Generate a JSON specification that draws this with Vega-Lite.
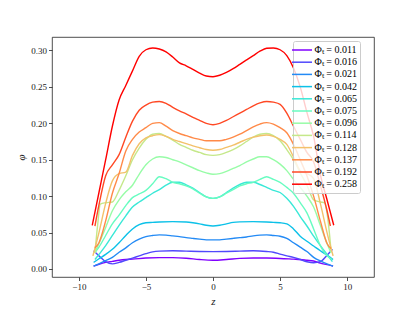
{
"$schema": "https://vega.github.io/schema/vega-lite/v6.json",
"width": 322, "height": 240,
"autosize": {"type": "none"},
"padding": {"left": 52, "top": 37, "right": 41, "bottom": 34},
"background": "white",
"datasets": {"d": [
{"T":"0.011","z":-8.9,"p":0.004},{"T":"0.011","z":-8.5,"p":0.0065},{"T":"0.011","z":-8,"p":0.009},{"T":"0.011","z":-7.5,"p":0.0105},{"T":"0.011","z":-7,"p":0.012},{"T":"0.011","z":-6.5,"p":0.013},{"T":"0.011","z":-6,"p":0.0135},{"T":"0.011","z":-5,"p":0.015},{"T":"0.011","z":-4,"p":0.0156},{"T":"0.011","z":-3,"p":0.0156},{"T":"0.011","z":-2,"p":0.0148},{"T":"0.011","z":-1,"p":0.013},{"T":"0.011","z":0,"p":0.012},{"T":"0.011","z":1,"p":0.013},{"T":"0.011","z":2,"p":0.0145},{"T":"0.011","z":3,"p":0.015},{"T":"0.011","z":4,"p":0.015},{"T":"0.011","z":5,"p":0.0145},{"T":"0.011","z":6,"p":0.0135},{"T":"0.011","z":6.5,"p":0.013},{"T":"0.011","z":7,"p":0.012},{"T":"0.011","z":7.5,"p":0.011},{"T":"0.011","z":8,"p":0.008},{"T":"0.011","z":8.5,"p":0.006},{"T":"0.011","z":8.95,"p":0.004},
{"T":"0.016","z":-8.9,"p":0.025},{"T":"0.016","z":-8.5,"p":0.018},{"T":"0.016","z":-8,"p":0.010},{"T":"0.016","z":-7.5,"p":0.007},{"T":"0.016","z":-7,"p":0.009},{"T":"0.016","z":-6.5,"p":0.012},{"T":"0.016","z":-6,"p":0.015},{"T":"0.016","z":-5.5,"p":0.018},{"T":"0.016","z":-5,"p":0.021},{"T":"0.016","z":-4.5,"p":0.0235},{"T":"0.016","z":-4,"p":0.0245},{"T":"0.016","z":-3,"p":0.025},{"T":"0.016","z":-2,"p":0.0245},{"T":"0.016","z":-1,"p":0.024},{"T":"0.016","z":0,"p":0.0238},{"T":"0.016","z":1,"p":0.024},{"T":"0.016","z":2,"p":0.0245},{"T":"0.016","z":3,"p":0.025},{"T":"0.016","z":4,"p":0.024},{"T":"0.016","z":4.5,"p":0.023},{"T":"0.016","z":5,"p":0.0205},{"T":"0.016","z":5.5,"p":0.018},{"T":"0.016","z":6,"p":0.016},{"T":"0.016","z":6.5,"p":0.013},{"T":"0.016","z":7,"p":0.010},{"T":"0.016","z":7.5,"p":0.0085},{"T":"0.016","z":8,"p":0.010},{"T":"0.016","z":8.5,"p":0.019},{"T":"0.016","z":8.9,"p":0.027},
{"T":"0.021","z":-8.9,"p":0.004},{"T":"0.021","z":-8.5,"p":0.007},{"T":"0.021","z":-8,"p":0.0115},{"T":"0.021","z":-7.5,"p":0.016},{"T":"0.021","z":-7,"p":0.023},{"T":"0.021","z":-6.5,"p":0.029},{"T":"0.021","z":-6,"p":0.036},{"T":"0.021","z":-5.5,"p":0.041},{"T":"0.021","z":-5,"p":0.0445},{"T":"0.021","z":-4.5,"p":0.046},{"T":"0.021","z":-4,"p":0.0468},{"T":"0.021","z":-3.5,"p":0.0465},{"T":"0.021","z":-3,"p":0.0455},{"T":"0.021","z":-2.5,"p":0.0445},{"T":"0.021","z":-2,"p":0.043},{"T":"0.021","z":-1.5,"p":0.042},{"T":"0.021","z":-1,"p":0.041},{"T":"0.021","z":-0.5,"p":0.040},{"T":"0.021","z":0,"p":0.040},{"T":"0.021","z":0.5,"p":0.040},{"T":"0.021","z":1,"p":0.041},{"T":"0.021","z":1.5,"p":0.042},{"T":"0.021","z":2,"p":0.043},{"T":"0.021","z":2.5,"p":0.044},{"T":"0.021","z":3,"p":0.0455},{"T":"0.021","z":3.5,"p":0.0465},{"T":"0.021","z":4,"p":0.0468},{"T":"0.021","z":4.5,"p":0.046},{"T":"0.021","z":5,"p":0.045},{"T":"0.021","z":5.5,"p":0.042},{"T":"0.021","z":6,"p":0.036},{"T":"0.021","z":6.5,"p":0.030},{"T":"0.021","z":7,"p":0.024},{"T":"0.021","z":7.5,"p":0.016},{"T":"0.021","z":8,"p":0.011},{"T":"0.021","z":8.5,"p":0.007},{"T":"0.021","z":8.95,"p":0.004},
{"T":"0.042","z":-8.9,"p":0.009},{"T":"0.042","z":-8.5,"p":0.014},{"T":"0.042","z":-8,"p":0.020},{"T":"0.042","z":-7.5,"p":0.027},{"T":"0.042","z":-7,"p":0.036},{"T":"0.042","z":-6.5,"p":0.046},{"T":"0.042","z":-6,"p":0.055},{"T":"0.042","z":-5.5,"p":0.061},{"T":"0.042","z":-5,"p":0.0635},{"T":"0.042","z":-4.5,"p":0.064},{"T":"0.042","z":-4,"p":0.0645},{"T":"0.042","z":-3,"p":0.065},{"T":"0.042","z":-2,"p":0.0645},{"T":"0.042","z":-1.5,"p":0.0635},{"T":"0.042","z":-1,"p":0.062},{"T":"0.042","z":-0.5,"p":0.060},{"T":"0.042","z":0,"p":0.059},{"T":"0.042","z":0.5,"p":0.060},{"T":"0.042","z":1,"p":0.062},{"T":"0.042","z":1.5,"p":0.064},{"T":"0.042","z":2,"p":0.0647},{"T":"0.042","z":3,"p":0.065},{"T":"0.042","z":4,"p":0.0645},{"T":"0.042","z":4.5,"p":0.064},{"T":"0.042","z":5,"p":0.0635},{"T":"0.042","z":5.5,"p":0.062},{"T":"0.042","z":6,"p":0.055},{"T":"0.042","z":6.5,"p":0.045},{"T":"0.042","z":7,"p":0.038},{"T":"0.042","z":7.5,"p":0.0315},{"T":"0.042","z":8,"p":0.025},{"T":"0.042","z":8.5,"p":0.019},{"T":"0.042","z":8.95,"p":0.013},
{"T":"0.065","z":-8.8,"p":0.013},{"T":"0.065","z":-8.5,"p":0.020},{"T":"0.065","z":-8,"p":0.032},{"T":"0.065","z":-7.5,"p":0.046},{"T":"0.065","z":-7,"p":0.060},{"T":"0.065","z":-6.5,"p":0.073},{"T":"0.065","z":-6,"p":0.085},{"T":"0.065","z":-5.5,"p":0.092},{"T":"0.065","z":-5,"p":0.098},{"T":"0.065","z":-4.5,"p":0.104},{"T":"0.065","z":-4,"p":0.109},{"T":"0.065","z":-3.5,"p":0.115},{"T":"0.065","z":-3,"p":0.119},{"T":"0.065","z":-2.5,"p":0.119},{"T":"0.065","z":-2,"p":0.1155},{"T":"0.065","z":-1.5,"p":0.111},{"T":"0.065","z":-1,"p":0.105},{"T":"0.065","z":-0.5,"p":0.099},{"T":"0.065","z":0,"p":0.097},{"T":"0.065","z":0.5,"p":0.099},{"T":"0.065","z":1,"p":0.105},{"T":"0.065","z":1.5,"p":0.111},{"T":"0.065","z":2,"p":0.116},{"T":"0.065","z":2.5,"p":0.119},{"T":"0.065","z":3,"p":0.119},{"T":"0.065","z":3.5,"p":0.116},{"T":"0.065","z":4,"p":0.112},{"T":"0.065","z":4.5,"p":0.108},{"T":"0.065","z":5,"p":0.105},{"T":"0.065","z":5.5,"p":0.097},{"T":"0.065","z":6,"p":0.086},{"T":"0.065","z":6.5,"p":0.072},{"T":"0.065","z":7,"p":0.059},{"T":"0.065","z":7.5,"p":0.045},{"T":"0.065","z":8,"p":0.032},{"T":"0.065","z":8.5,"p":0.020},{"T":"0.065","z":8.9,"p":0.010},
{"T":"0.075","z":-8.8,"p":0.0225},{"T":"0.075","z":-8.5,"p":0.030},{"T":"0.075","z":-8,"p":0.046},{"T":"0.075","z":-7.5,"p":0.062},{"T":"0.075","z":-7,"p":0.074},{"T":"0.075","z":-6.5,"p":0.087},{"T":"0.075","z":-6,"p":0.098},{"T":"0.075","z":-5.5,"p":0.103},{"T":"0.075","z":-5,"p":0.108},{"T":"0.075","z":-4.5,"p":0.117},{"T":"0.075","z":-4,"p":0.1266},{"T":"0.075","z":-3.5,"p":0.124},{"T":"0.075","z":-3,"p":0.119},{"T":"0.075","z":-2.5,"p":0.117},{"T":"0.075","z":-2,"p":0.114},{"T":"0.075","z":-1.5,"p":0.110},{"T":"0.075","z":-1,"p":0.104},{"T":"0.075","z":-0.5,"p":0.099},{"T":"0.075","z":0,"p":0.097},{"T":"0.075","z":0.5,"p":0.099},{"T":"0.075","z":1,"p":0.104},{"T":"0.075","z":1.5,"p":0.109},{"T":"0.075","z":2,"p":0.114},{"T":"0.075","z":2.5,"p":0.117},{"T":"0.075","z":3,"p":0.119},{"T":"0.075","z":3.5,"p":0.123},{"T":"0.075","z":4,"p":0.1266},{"T":"0.075","z":4.5,"p":0.123},{"T":"0.075","z":5,"p":0.119},{"T":"0.075","z":5.5,"p":0.112},{"T":"0.075","z":6,"p":0.104},{"T":"0.075","z":6.5,"p":0.091},{"T":"0.075","z":7,"p":0.077},{"T":"0.075","z":7.5,"p":0.055},{"T":"0.075","z":8,"p":0.032},{"T":"0.075","z":8.5,"p":0.018},{"T":"0.075","z":8.85,"p":0.0133},
{"T":"0.096","z":-8.8,"p":0.0225},{"T":"0.096","z":-8.5,"p":0.035},{"T":"0.096","z":-8,"p":0.057},{"T":"0.096","z":-7.5,"p":0.080},{"T":"0.096","z":-7,"p":0.095},{"T":"0.096","z":-6.5,"p":0.106},{"T":"0.096","z":-6,"p":0.115},{"T":"0.096","z":-5.5,"p":0.130},{"T":"0.096","z":-5,"p":0.143},{"T":"0.096","z":-4.5,"p":0.151},{"T":"0.096","z":-4,"p":0.154},{"T":"0.096","z":-3.5,"p":0.153},{"T":"0.096","z":-3,"p":0.150},{"T":"0.096","z":-2.5,"p":0.147},{"T":"0.096","z":-2,"p":0.143},{"T":"0.096","z":-1.5,"p":0.139},{"T":"0.096","z":-1,"p":0.135},{"T":"0.096","z":-0.5,"p":0.132},{"T":"0.096","z":0,"p":0.130},{"T":"0.096","z":0.5,"p":0.131},{"T":"0.096","z":1,"p":0.134},{"T":"0.096","z":1.5,"p":0.138},{"T":"0.096","z":2,"p":0.142},{"T":"0.096","z":2.5,"p":0.147},{"T":"0.096","z":3,"p":0.151},{"T":"0.096","z":3.5,"p":0.154},{"T":"0.096","z":4,"p":0.154},{"T":"0.096","z":4.5,"p":0.150},{"T":"0.096","z":5,"p":0.144},{"T":"0.096","z":5.5,"p":0.135},{"T":"0.096","z":6,"p":0.123},{"T":"0.096","z":6.5,"p":0.112},{"T":"0.096","z":7,"p":0.100},{"T":"0.096","z":7.5,"p":0.085},{"T":"0.096","z":8,"p":0.060},{"T":"0.096","z":8.5,"p":0.035},{"T":"0.096","z":8.8,"p":0.022},
{"T":"0.114","z":-8.8,"p":0.022},{"T":"0.114","z":-8.6,"p":0.060},{"T":"0.114","z":-8.4,"p":0.089},{"T":"0.114","z":-8,"p":0.091},{"T":"0.114","z":-7.5,"p":0.092},{"T":"0.114","z":-7,"p":0.108},{"T":"0.114","z":-6.5,"p":0.128},{"T":"0.114","z":-6,"p":0.150},{"T":"0.114","z":-5.5,"p":0.166},{"T":"0.114","z":-5,"p":0.178},{"T":"0.114","z":-4.5,"p":0.185},{"T":"0.114","z":-4,"p":0.186},{"T":"0.114","z":-3.5,"p":0.182},{"T":"0.114","z":-3,"p":0.177},{"T":"0.114","z":-2.5,"p":0.171},{"T":"0.114","z":-2,"p":0.167},{"T":"0.114","z":-1.5,"p":0.163},{"T":"0.114","z":-1,"p":0.160},{"T":"0.114","z":-0.5,"p":0.157},{"T":"0.114","z":0,"p":0.156},{"T":"0.114","z":0.5,"p":0.157},{"T":"0.114","z":1,"p":0.160},{"T":"0.114","z":1.5,"p":0.164},{"T":"0.114","z":2,"p":0.169},{"T":"0.114","z":2.5,"p":0.175},{"T":"0.114","z":3,"p":0.181},{"T":"0.114","z":3.5,"p":0.185},{"T":"0.114","z":4,"p":0.186},{"T":"0.114","z":4.5,"p":0.183},{"T":"0.114","z":5,"p":0.176},{"T":"0.114","z":5.5,"p":0.164},{"T":"0.114","z":6,"p":0.150},{"T":"0.114","z":6.5,"p":0.132},{"T":"0.114","z":7,"p":0.115},{"T":"0.114","z":7.5,"p":0.095},{"T":"0.114","z":8,"p":0.092},{"T":"0.114","z":8.3,"p":0.091},{"T":"0.114","z":8.55,"p":0.070},{"T":"0.114","z":8.8,"p":0.025},
{"T":"0.128","z":-8.95,"p":0.018},{"T":"0.128","z":-8.5,"p":0.050},{"T":"0.128","z":-8,"p":0.090},{"T":"0.128","z":-7.5,"p":0.121},{"T":"0.128","z":-7,"p":0.131},{"T":"0.128","z":-6.5,"p":0.133},{"T":"0.128","z":-6,"p":0.156},{"T":"0.128","z":-5.5,"p":0.172},{"T":"0.128","z":-5,"p":0.180},{"T":"0.128","z":-4.5,"p":0.183},{"T":"0.128","z":-4,"p":0.1845},{"T":"0.128","z":-3.5,"p":0.182},{"T":"0.128","z":-3,"p":0.178},{"T":"0.128","z":-2.5,"p":0.175},{"T":"0.128","z":-2,"p":0.172},{"T":"0.128","z":-1.5,"p":0.169},{"T":"0.128","z":-1,"p":0.1665},{"T":"0.128","z":-0.5,"p":0.164},{"T":"0.128","z":0,"p":0.163},{"T":"0.128","z":0.5,"p":0.164},{"T":"0.128","z":1,"p":0.167},{"T":"0.128","z":1.5,"p":0.170},{"T":"0.128","z":2,"p":0.174},{"T":"0.128","z":2.5,"p":0.178},{"T":"0.128","z":3,"p":0.181},{"T":"0.128","z":3.5,"p":0.183},{"T":"0.128","z":4,"p":0.184},{"T":"0.128","z":4.5,"p":0.182},{"T":"0.128","z":5,"p":0.178},{"T":"0.128","z":5.5,"p":0.171},{"T":"0.128","z":6,"p":0.154},{"T":"0.128","z":6.5,"p":0.135},{"T":"0.128","z":7,"p":0.131},{"T":"0.128","z":7.5,"p":0.124},{"T":"0.128","z":8,"p":0.090},{"T":"0.128","z":8.5,"p":0.050},{"T":"0.128","z":8.95,"p":0.018},
{"T":"0.137","z":-8.8,"p":0.029},{"T":"0.137","z":-8.5,"p":0.036},{"T":"0.137","z":-8,"p":0.066},{"T":"0.137","z":-7.5,"p":0.104},{"T":"0.137","z":-7,"p":0.131},{"T":"0.137","z":-6.5,"p":0.162},{"T":"0.137","z":-6,"p":0.178},{"T":"0.137","z":-5.5,"p":0.188},{"T":"0.137","z":-5,"p":0.194},{"T":"0.137","z":-4.5,"p":0.200},{"T":"0.137","z":-4,"p":0.201},{"T":"0.137","z":-3.5,"p":0.196},{"T":"0.137","z":-3,"p":0.190},{"T":"0.137","z":-2.5,"p":0.186},{"T":"0.137","z":-2,"p":0.183},{"T":"0.137","z":-1.5,"p":0.180},{"T":"0.137","z":-1,"p":0.178},{"T":"0.137","z":-0.5,"p":0.176},{"T":"0.137","z":0,"p":0.176},{"T":"0.137","z":0.5,"p":0.176},{"T":"0.137","z":1,"p":0.178},{"T":"0.137","z":1.5,"p":0.181},{"T":"0.137","z":2,"p":0.185},{"T":"0.137","z":2.5,"p":0.190},{"T":"0.137","z":3,"p":0.195},{"T":"0.137","z":3.5,"p":0.199},{"T":"0.137","z":4,"p":0.201},{"T":"0.137","z":4.5,"p":0.199},{"T":"0.137","z":5,"p":0.194},{"T":"0.137","z":5.5,"p":0.187},{"T":"0.137","z":6,"p":0.171},{"T":"0.137","z":6.5,"p":0.150},{"T":"0.137","z":7,"p":0.128},{"T":"0.137","z":7.5,"p":0.100},{"T":"0.137","z":8,"p":0.066},{"T":"0.137","z":8.5,"p":0.035},{"T":"0.137","z":8.8,"p":0.028},
{"T":"0.192","z":-8.8,"p":0.059},{"T":"0.192","z":-8.5,"p":0.088},{"T":"0.192","z":-8,"p":0.128},{"T":"0.192","z":-7.5,"p":0.143},{"T":"0.192","z":-7,"p":0.157},{"T":"0.192","z":-6.5,"p":0.181},{"T":"0.192","z":-6,"p":0.203},{"T":"0.192","z":-5.5,"p":0.218},{"T":"0.192","z":-5,"p":0.225},{"T":"0.192","z":-4.5,"p":0.229},{"T":"0.192","z":-4,"p":0.230},{"T":"0.192","z":-3.5,"p":0.2275},{"T":"0.192","z":-3,"p":0.222},{"T":"0.192","z":-2.5,"p":0.217},{"T":"0.192","z":-2,"p":0.213},{"T":"0.192","z":-1.5,"p":0.208},{"T":"0.192","z":-1,"p":0.204},{"T":"0.192","z":-0.5,"p":0.200},{"T":"0.192","z":0,"p":0.198},{"T":"0.192","z":0.5,"p":0.200},{"T":"0.192","z":1,"p":0.204},{"T":"0.192","z":1.5,"p":0.209},{"T":"0.192","z":2,"p":0.214},{"T":"0.192","z":2.5,"p":0.219},{"T":"0.192","z":3,"p":0.224},{"T":"0.192","z":3.5,"p":0.228},{"T":"0.192","z":4,"p":0.230},{"T":"0.192","z":4.5,"p":0.229},{"T":"0.192","z":5,"p":0.226},{"T":"0.192","z":5.5,"p":0.214},{"T":"0.192","z":6,"p":0.196},{"T":"0.192","z":6.5,"p":0.178},{"T":"0.192","z":7,"p":0.160},{"T":"0.192","z":7.5,"p":0.147},{"T":"0.192","z":8,"p":0.115},{"T":"0.192","z":8.5,"p":0.080},{"T":"0.192","z":8.75,"p":0.059},
{"T":"0.258","z":-9,"p":0.060},{"T":"0.258","z":-8.5,"p":0.105},{"T":"0.258","z":-8,"p":0.150},{"T":"0.258","z":-7.5,"p":0.196},{"T":"0.258","z":-7,"p":0.232},{"T":"0.258","z":-6.5,"p":0.252},{"T":"0.258","z":-6,"p":0.272},{"T":"0.258","z":-5.5,"p":0.292},{"T":"0.258","z":-5,"p":0.301},{"T":"0.258","z":-4.5,"p":0.3035},{"T":"0.258","z":-4,"p":0.302},{"T":"0.258","z":-3.5,"p":0.298},{"T":"0.258","z":-3,"p":0.291},{"T":"0.258","z":-2.5,"p":0.283},{"T":"0.258","z":-2,"p":0.279},{"T":"0.258","z":-1.5,"p":0.274},{"T":"0.258","z":-1,"p":0.269},{"T":"0.258","z":-0.5,"p":0.265},{"T":"0.258","z":0,"p":0.264},{"T":"0.258","z":0.5,"p":0.266},{"T":"0.258","z":1,"p":0.270},{"T":"0.258","z":1.5,"p":0.275},{"T":"0.258","z":2,"p":0.281},{"T":"0.258","z":2.5,"p":0.287},{"T":"0.258","z":3,"p":0.293},{"T":"0.258","z":3.5,"p":0.299},{"T":"0.258","z":4,"p":0.303},{"T":"0.258","z":4.5,"p":0.3035},{"T":"0.258","z":5,"p":0.301},{"T":"0.258","z":5.5,"p":0.293},{"T":"0.258","z":6,"p":0.276},{"T":"0.258","z":6.5,"p":0.250},{"T":"0.258","z":7,"p":0.215},{"T":"0.258","z":7.5,"p":0.182},{"T":"0.258","z":8,"p":0.130},{"T":"0.258","z":8.5,"p":0.095},{"T":"0.258","z":9,"p":0.060}
]},
"data": {"name": "d"},
"mark": {"type": "line", "strokeWidth": 1.4, "interpolate": "monotone", "clip": true},
"encoding": {
"x": {"field": "z", "type": "quantitative", "scale": {"domain": [-12, 12], "nice": false, "zero": false},
"axis": {"values": [-10, -5, 0, 5, 10], "format": "d", "title": "z", "titlePadding": 4}},
"y": {"field": "p", "type": "quantitative", "scale": {"domain": [-0.011, 0.3185], "nice": false, "zero": false},
"axis": {"values": [0, 0.05, 0.1, 0.15, 0.2, 0.25, 0.3], "format": ".2f", "title": "φ", "titlePadding": 4}},
"color": {"field": "T", "type": "nominal",
"scale": {"domain": ["0.011","0.016","0.021","0.042","0.065","0.075","0.096","0.114","0.128","0.137","0.192","0.258"],
"range": ["#8000ff","#5148fc","#238af5","#0cc1e8","#3ae8d7","#68fcc1","#97fca7","#c5e88a","#f3c16a","#ff8a48","#ff4824","#ff0000"]},
"legend": {"orient": "none", "legendX": 241, "legendY": 4, "title": null, "labelExpr": "'Φₜ = ' + datum.label",
"symbolType": "M-2,0H2", "symbolSize": 100, "symbolStrokeWidth": 1.5, "labelFont": "Liberation Serif", "labelFontSize": 10,
"labelOffset": 6.5, "rowPadding": 1.2, "padding": 3, "fillColor": "rgba(255,255,255,0.8)", "strokeColor": "#cccccc", "cornerRadius": 2}}
},
"config": {
"font": "Liberation Serif",
"view": {"stroke": "#222222", "strokeWidth": 0.8},
"axis": {"grid": false, "domain": false, "tickColor": "#222222", "tickSize": 3.5, "tickWidth": 0.8,
"labelFont": "Liberation Serif", "labelFontSize": 9, "labelColor": "#222222", "labelPadding": 2,
"titleFont": "Liberation Serif", "titleFontSize": 11, "titleFontWeight": "normal", "titleFontStyle": "italic", "titleColor": "#222222"}
}
}
